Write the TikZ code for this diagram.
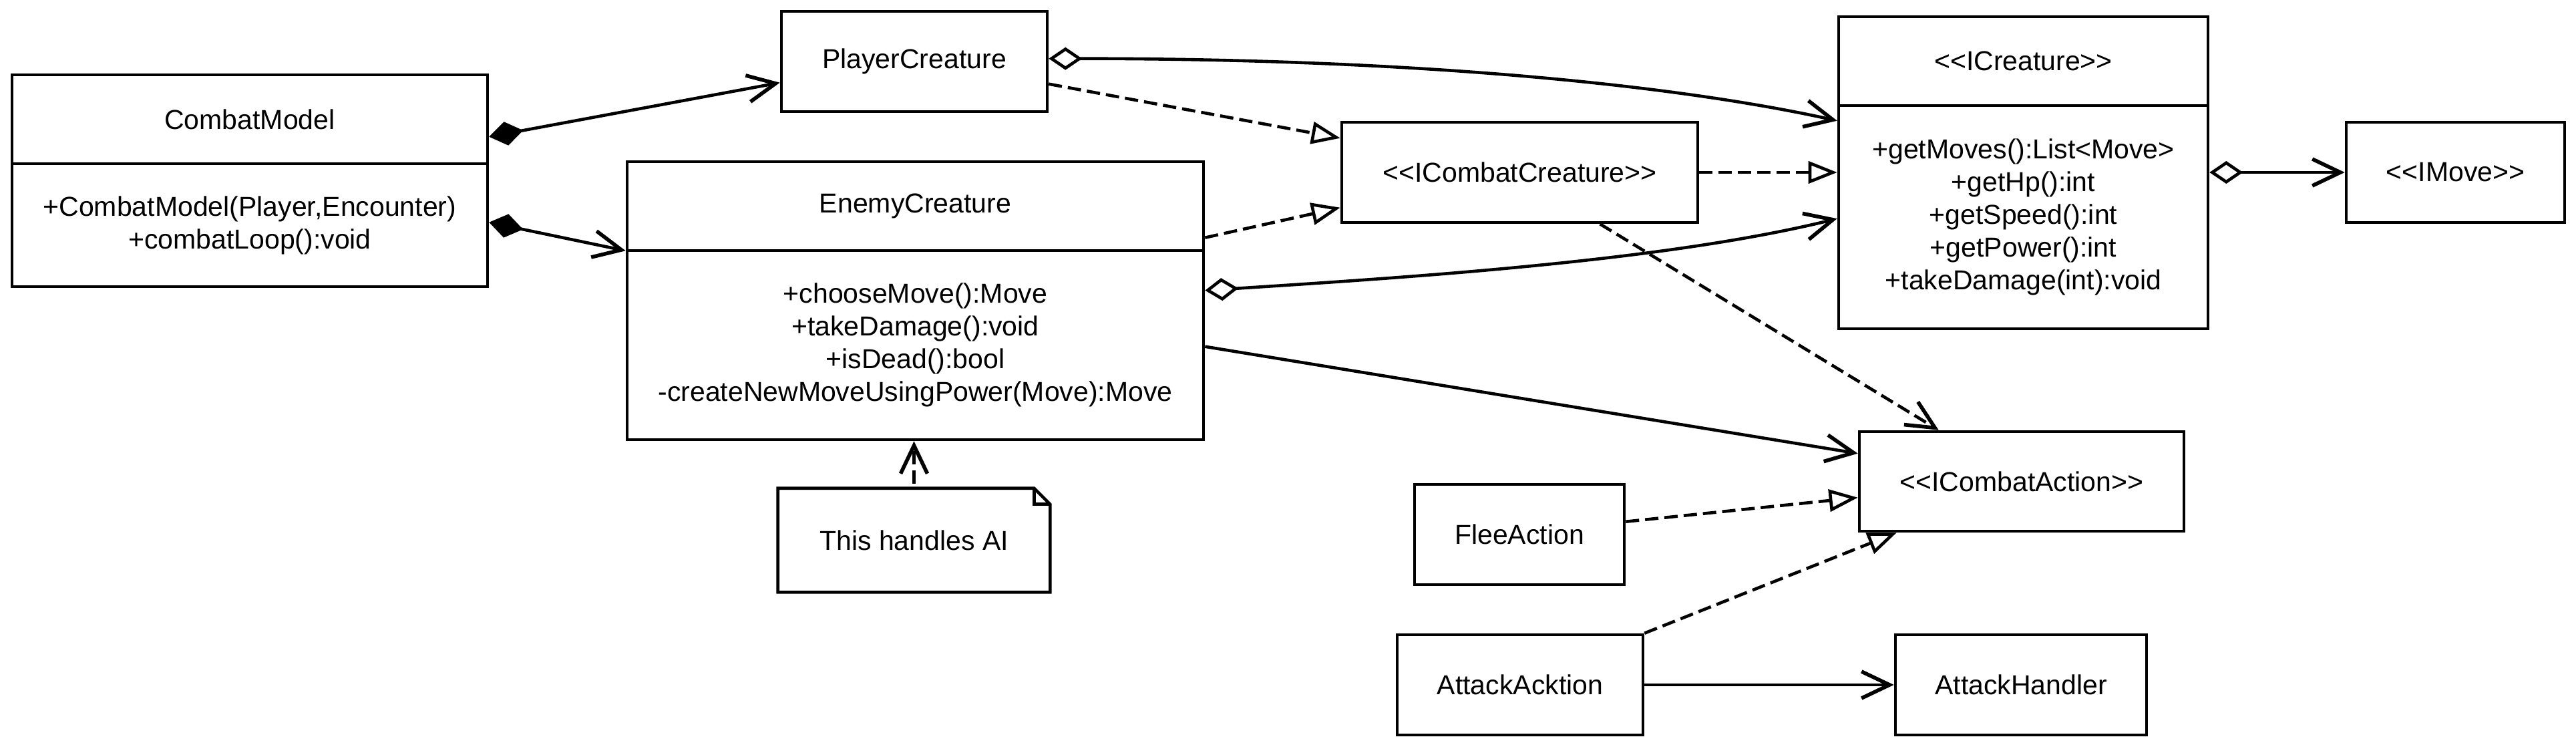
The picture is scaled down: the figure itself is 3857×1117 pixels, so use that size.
\documentclass[tikz,border=0pt]{standalone}
\usepackage{fontspec}
\newfontfamily\umlfont{Liberation Sans}
\usetikzlibrary{arrows.meta,calc}
\begin{document}
\begin{tikzpicture}[x=1pt,y=-1pt,line width=4.6pt,
  box/.style={draw,rectangle,inner sep=0pt,line width=4.6pt,font=\umlfont\fontsize{41}{49}\selectfont,align=center},
  oarr/.tip={Straight Barb[length=42pt,width=40pt,line width=5.6pt]},
  compo/.style={{Diamond[length=52pt,width=36pt]}-{oarr}},
  aggro/.style={{Diamond[open,length=50pt,width=34pt]}-{oarr}},
  assoc/.style={-{oarr}},
  realiz/.style={dash pattern=on 20pt off 9pt,-{Triangle[open,length=43pt,width=33pt]}},
  depend/.style={dash pattern=on 20pt off 9pt,-{oarr}}]
\useasboundingbox (0,0) rectangle (3857,1117);

% CombatModel
\node[box,minimum width=712pt,minimum height=133pt] (cmt) at (374,178.5) {CombatModel};
\node[box,minimum width=712pt,minimum height=184pt] (cm) at (374,337) {+CombatModel(Player,Encounter)\\+combatLoop():void};
% PlayerCreature
\node[box,minimum width=398pt,minimum height=150pt] (pc) at (1369,92) {PlayerCreature};
% EnemyCreature
\node[box,minimum width=863pt,minimum height=133pt] (ect) at (1370.5,308.5) {EnemyCreature};
\node[box,minimum width=863pt,minimum height=283pt] (ec) at (1370.5,516.5) {+chooseMove():Move\\+takeDamage():void\\+isDead():bool\\-createNewMoveUsingPower(Move):Move};
% ICombatCreature
\node[box,minimum width=533pt,minimum height=150pt] (icc) at (2275.5,258) {<<ICombatCreature>>};
% ICreature
\node[box,minimum width=553pt,minimum height=133pt] (icrt) at (3029.5,91.5) {<<ICreature>>};
\node[box,minimum width=553pt,minimum height=334pt] (icr) at (3029.5,325) {+getMoves():List<Move>\\+getHp():int\\+getSpeed():int\\+getPower():int\\+takeDamage(int):void};
% IMove
\node[box,minimum width=327pt,minimum height=150pt] (im) at (3676.5,258) {<<IMove>>};
% ICombatAction
\node[box,minimum width=486pt,minimum height=149pt] (ica) at (3027,720.5) {<<ICombatAction>>};
% FleeAction
\node[box,minimum width=314pt,minimum height=150pt] (fa) at (2275,800) {FleeAction};
% AttackAcktion
\node[box,minimum width=368pt,minimum height=150pt] (aa) at (2276,1025) {AttackAcktion};
% AttackHandler
\node[box,minimum width=376pt,minimum height=150pt] (ah) at (3026,1025) {AttackHandler};
% Note
\node[box,draw=none,minimum width=403pt,minimum height=151pt] (note) at (1368.5,808.5) {This handles AI};
\draw[line join=miter] (note.north west) -- ($(note.north east)+(-24,0)$) -- ($(note.north east)+(0,24)$) -- (note.south east) -- (note.south west) -- cycle;
\draw[line join=miter] ($(note.north east)+(-24,0)$) -- ($(note.north east)+(-24,24)$) -- ($(note.north east)+(0,24)$);

% connectors
\draw[compo] ($(cmt.north east)+(0,95)$) -- ($(pc.north west)+(0,109)$);
\draw[compo] ($(cm.north east)+(0,90)$) -- ($(ect.south west)+(0,-2)$);
\draw[aggro] ($(pc.north east)+(0,73)$) .. controls +(532,0) and +(-253,-56) .. ($(icr.north west)+(0,25)$);
\draw[realiz] ($(pc.north east)+(0,111)$) -- ($(icc.north west)+(0,26)$);
\draw[realiz] ($(ect.north east)+(0,116)$) -- ($(icc.north west)+(0,130)$);
\draw[aggro] ($(ec.north east)+(0,62)$) .. controls +(328,-21) and +(-250,62) .. ($(icr.north west)+(0,171.5)$);
\draw[realiz] (icc.east) -- (icc.east -| icr.west);
\draw[aggro] (im.west -| icr.east) -- (im.west);
\draw[depend] ($(icc.south west)+(389,0)$) -- ($(ica.north west)+(121,0)$);
\draw[assoc] ($(ec.north east)+(0,146)$) -- ($(ica.north west)+(0,35)$);
\draw[realiz] ($(fa.north east)+(0,58)$) -- ($(ica.north west)+(0,101)$);
\draw[realiz] (aa.north east) -- ($(ica.south west)+(58,0)$);
\draw[assoc] (aa.east) -- (ah.west);
\draw[depend,dash phase=22pt] (note.north) -- (note.north |- ec.south);
\end{tikzpicture}
\end{document}
